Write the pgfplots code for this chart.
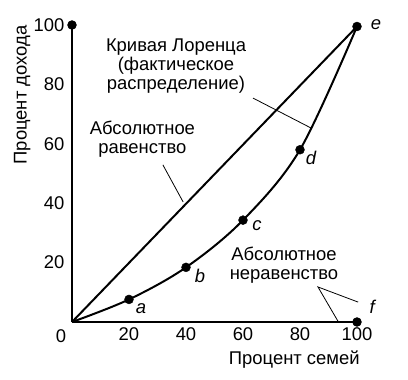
\documentclass[border=0pt]{standalone}
\usepackage{pgfplots}
\pgfplotsset{compat=1.18}
\usepackage{fontspec}
\setmainfont{Liberation Sans}
\newcommand\lf{\fontsize{18.5}{19}\selectfont}
\begin{document}
\begin{tikzpicture}
\path[use as bounding box] (-72bp,-58bp) rectangle (336bp,322bp);
\begin{axis}[
  at={(0,0)}, anchor=south west,
  scale only axis, width=285bp, height=297bp,
  xmin=0, xmax=100, ymin=0, ymax=100,
  clip=false,
  axis x line=bottom, axis y line=left,
  axis line style={-, line width=1.4pt},
  xtick={20,40,60,80,100}, ytick={20,40,60,80,100},
  major tick length=0pt,
  /pgf/number format/assume math mode=true,
  tick label style={font=\lf},
  xticklabel style={yshift=-2bp},
  yticklabel style={xshift=-4bp},
]
% equality line
\addplot[black, line width=2pt] coordinates {(0,0) (100,99.5)};
% Lorenz curve
\addplot[black, line width=2pt, smooth, tension=0.55] coordinates {(0,0) (20,7.6) (40,18.4) (60,34.3) (80,58) (100,99.5)};
% dots
\addplot[only marks, mark=*, mark size=4.5pt, black] coordinates {(0,100) (20,7.6) (40,18.4) (60,34.3) (80,58) (100,99.5) (100,0)};
% leader lines
\addplot[black, line width=0.8pt] coordinates {(63.5,75.4) (83.9,65.3)};
\addplot[black, line width=0.8pt] coordinates {(31.9,52.9) (39,40.4)};
\addplot[black, line width=0.8pt] coordinates {(93.3,0.3) (86.3,11.8) (100.4,6.7)};
% labels
\node[font=\lf, align=center] at (axis cs:36.5,86.2) {Кривая Лоренца\\(фактическое\\распределение)};
\node[font=\lf, align=center] at (axis cs:24.7,61.6) {Абсолютное\\равенство};
\node[font=\lf, align=center] at (axis cs:74.4,19) {Абсолютное\\неравенство};
\node[font=\lf\itshape] at (axis cs:24.2,4.4) {a};
\node[font=\lf\itshape] at (axis cs:44.9,15.5) {b};
\node[font=\lf\itshape] at (axis cs:64.9,32.3) {c};
\node[font=\lf\itshape] at (axis cs:83.9,55.2) {d};
\node[font=\lf\itshape] at (axis cs:106.7,100) {e};
\node[font=\lf\itshape] at (axis cs:105.3,5) {f};
\node[font=\lf] at (axis cs:-3.9,-4.6) {0};
\node[font=\lf] at (axis cs:78,-12.8) {Процент семей};
\node[font=\lf, rotate=90] at (axis cs:-17.5,76.4) {Процент дохода};
\end{axis}
\end{tikzpicture}
\end{document}
